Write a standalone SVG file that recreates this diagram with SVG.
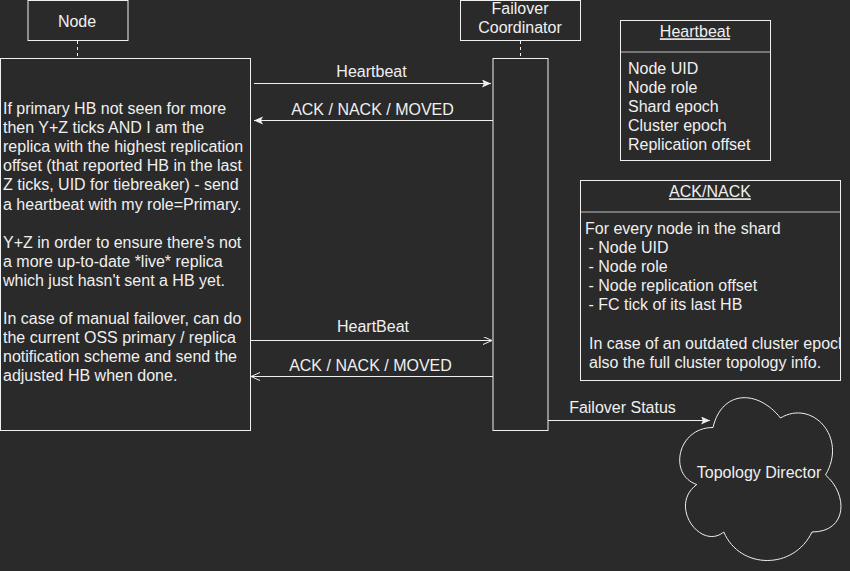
<svg xmlns="http://www.w3.org/2000/svg" width="850" height="571" viewBox="0 0 850 571">
<style>
text{font-family:"Liberation Sans",Arial,sans-serif;font-size:16px;fill:#f0f0f0}
.c{text-anchor:middle}
.box{fill:none;stroke:#f0f0f0;stroke-width:1}
.life{fill:none;stroke:#f0f0f0;stroke-width:1;stroke-dasharray:3 3}
.ln{fill:none;stroke:#f0f0f0;stroke-width:1}
.div{stroke:#8f8f8f;stroke-width:1.5}
.u{text-decoration:underline}
</style>
<defs>
<marker id="fill" markerUnits="userSpaceOnUse" markerWidth="12" markerHeight="10" refX="9" refY="4" orient="auto">
<path d="M0,0 L9,4 L0,8 L2,4 Z" fill="#f0f0f0"/>
</marker>
<marker id="open" markerUnits="userSpaceOnUse" markerWidth="12" markerHeight="10" refX="9" refY="4" orient="auto">
<path d="M0,0 L9,4 L0,8" fill="none" stroke="#f0f0f0" stroke-width="1"/>
</marker>
<clipPath id="ackclip"><rect x="580" y="180" width="260" height="201"/></clipPath>
</defs>
<rect width="850" height="571" fill="#2a2a2a"/>

<g id="node-header">
<rect class="box" x="28" y="0.5" width="100" height="40"/>
<text class="c" x="77" y="26.5">Node</text>
</g>
<g id="node-activation">
<rect class="box" x="0.5" y="58.5" width="250" height="372"/>
<text x="3" y="114">
<tspan x="3">If primary HB not seen for more</tspan>
<tspan x="3" dy="19.1">then Y+Z ticks AND I am the</tspan>
<tspan x="3" dy="19.1">replica with the highest replication</tspan>
<tspan x="3" dy="19.1">offset (that reported HB in the last</tspan>
<tspan x="3" dy="19.1">Z ticks, UID for tiebreaker) - send</tspan>
<tspan x="3" dy="19.1">a heartbeat with my role=Primary.</tspan>
<tspan x="3" dy="38.2">Y+Z in order to ensure there's not</tspan>
<tspan x="3" dy="19.1">a more up-to-date *live* replica</tspan>
<tspan x="3" dy="19.1">which just hasn't sent a HB yet.</tspan>
<tspan x="3" dy="38.2">In case of manual failover, can do</tspan>
<tspan x="3" dy="19.1">the current OSS primary / replica</tspan>
<tspan x="3" dy="19.1">notification scheme and send the</tspan>
<tspan x="3" dy="19.1">adjusted HB when done.</tspan>
</text>
</g>

<g id="fc-header">
<rect class="box" x="460.5" y="0.5" width="120" height="40"/>
<text class="c" x="520" y="14">Failover</text>
<text class="c" x="520" y="33.3">Coordinator</text>
</g>
<g id="fc-activation">
<rect class="box" x="493" y="58.5" width="55" height="372"/>
</g>

<g id="heartbeat-table">
<rect class="box" x="620.5" y="20.5" width="150" height="140"/>
<line class="div" x1="621" y1="52" x2="770" y2="52"/>
<text class="c u" x="695" y="37.3">Heartbeat</text>
<text x="628" y="74">
<tspan x="628">Node UID</tspan>
<tspan x="628" dy="19">Node role</tspan>
<tspan x="628" dy="19">Shard epoch</tspan>
<tspan x="628" dy="19">Cluster epoch</tspan>
<tspan x="628" dy="19">Replication offset</tspan>
</text>
</g>

<g id="ack-table">
<rect class="box" x="580.5" y="180.5" width="260" height="200"/>
<line class="div" x1="581" y1="212" x2="840" y2="212"/>
<text class="c u" x="710" y="197.3">ACK/NACK</text>
<g clip-path="url(#ackclip)">
<text x="585" y="234">
<tspan x="585">For every node in the shard</tspan>
<tspan x="588.5" dy="19.1">- Node UID</tspan>
<tspan x="588.5" dy="19.1">- Node role</tspan>
<tspan x="588.5" dy="19.1">- Node replication offset</tspan>
<tspan x="588.5" dy="19.1">- FC tick of its last HB</tspan>
<tspan x="589" dy="38.2">In case of an outdated cluster epoch</tspan>
<tspan x="589" dy="19.1">also the full cluster topology info.</tspan>
</text>
</g>
</g>

<g id="topology-director">
<path class="box" d="M713,427.5 C677,427.5 668,475 696.8,484.5 C668,505.4 700.4,551 723.8,532 C740,570 794,570 812,532 C848,532 848,494 825.5,475 C848,437 812,399 780.5,418 C758,389.5 722,389.5 713,427.5 Z"/>
<text class="c" x="759" y="478.3">Topology Director</text>
</g>

<g id="connectors">
<line class="life" x1="77.5" y1="41" x2="77.5" y2="58"/>
<line class="life" x1="520.5" y1="41" x2="520.5" y2="58"/>
<line class="ln" x1="254" y1="83.5" x2="491" y2="83.5" marker-end="url(#fill)"/>
<text class="c" x="371.5" y="77.3">Heartbeat</text>
<line class="ln" x1="493" y1="120.5" x2="254" y2="120.5" marker-end="url(#fill)"/>
<text class="c" x="372.5" y="115">ACK / NACK / MOVED</text>
<line class="ln" x1="251" y1="340.5" x2="492" y2="340.5" marker-end="url(#open)"/>
<text class="c" x="373" y="331.7">HeartBeat</text>
<line class="ln" x1="493" y1="376.5" x2="251" y2="376.5" marker-end="url(#open)"/>
<text class="c" x="370.5" y="371">ACK / NACK / MOVED</text>
<line class="ln" x1="548" y1="420.5" x2="710" y2="420.5" marker-end="url(#fill)"/>
<text class="c" x="622.5" y="413.3">Failover Status</text>
</g>
</svg>
